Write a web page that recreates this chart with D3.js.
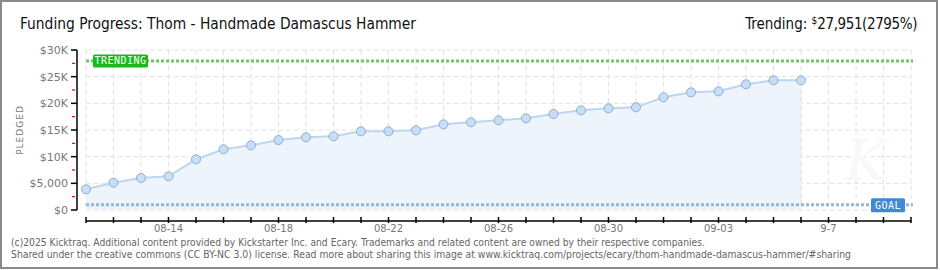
<!DOCTYPE html>
<html>
<head>
<meta charset="utf-8">
<script src="https://cdn.jsdelivr.net/npm/d3@7"></script>
<style>
  body { margin: 0; background: #fff; }
  svg { display: block; }
</style>
</head>
<body>
<div id="chart"></div>
<script>
// Daily pledged totals (USD)
const dates = ["2025-08-11","2025-08-12","2025-08-13","2025-08-14","2025-08-15","2025-08-16","2025-08-17",
  "2025-08-18","2025-08-19","2025-08-20","2025-08-21","2025-08-22","2025-08-23","2025-08-24","2025-08-25",
  "2025-08-26","2025-08-27","2025-08-28","2025-08-29","2025-08-30","2025-08-31","2025-09-01","2025-09-02",
  "2025-09-03","2025-09-04","2025-09-05","2025-09-06"];
const pledged = [3880, 5120, 6000, 6310, 9500, 11380, 12130, 13120, 13630, 13820, 14750, 14750, 14940,
  16060, 16440, 16810, 17190, 18000, 18690, 19060, 19250, 21130, 22060, 22250, 23560, 24310, 24310];
const goal = 1000;
const trending = 27951;
const yTicks = [0, 5000, 10000, 15000, 20000, 25000, 30000];
const yTickLabels = ["$0", "$5,000", "$10K", "$15K", "$20K", "$25K", "$30K"];
const xLabelDates = ["2025-08-14","2025-08-18","2025-08-22","2025-08-26","2025-08-30","2025-09-03","2025-09-07"];
const xLabels = ["08-14","08-18","08-22","08-26","08-30","09-03","9-7"];

const W = 940, H = 270;
const parse = d3.utcParse("%Y-%m-%d");
const data = dates.map((d, i) => ({ date: parse(d), value: pledged[i] }));

const svg = d3.select("#chart").append("svg")
    .attr("width", W).attr("height", H);

// frame
svg.append("rect")
    .attr("x", 1).attr("y", 1).attr("width", W - 4).attr("height", H - 3)
    .attr("fill", "#fff").attr("stroke", "#8a8a8a").attr("stroke-width", 2);

const x = d3.scaleUtc()
    .domain([parse("2025-08-11"), parse("2025-09-10")])
    .range([86, 911]);
const y = d3.scaleLinear()
    .domain([0, 30000])
    .range([210, 50]);

// grid
const days = d3.utcDay.range(parse("2025-08-11"), d3.utcDay.offset(parse("2025-09-10"), 1));
svg.append("g").selectAll("line")
    .data(days).join("line")
    .attr("x1", d => x(d)).attr("x2", d => x(d))
    .attr("y1", y(30000)).attr("y2", y(0))
    .attr("stroke", "#e2e2e2").attr("stroke-dasharray", "5,3");
svg.append("g").selectAll("line")
    .data(yTicks).join("line")
    .attr("x1", x.range()[0]).attr("x2", x.range()[1])
    .attr("y1", d => y(d)).attr("y2", d => y(d))
    .attr("stroke", "#e2e2e2").attr("stroke-dasharray", "5,3");

// watermark
svg.append("text")
    .attr("x", 866).attr("y", 180)
    .attr("text-anchor", "middle")
    .style("font-family", "DejaVu Serif").style("font-style", "italic")
    .style("font-size", "56px").style("fill", "#f8f8f8")
    .text("K");

// area + line
const lastDate = data[data.length - 1].date;
svg.append("path")
    .datum(data)
    .attr("d", d3.area().x(d => x(d.date)).y0(y(0)).y1(d => y(d.value)))
    .attr("fill", "#edf4fc");
svg.append("line")
    .attr("x1", x(lastDate)).attr("x2", x(lastDate))
    .attr("y1", y(data[data.length - 1].value)).attr("y2", y(0))
    .attr("stroke", "#e2e2e2").attr("stroke-dasharray", "5,3");
svg.append("path")
    .datum(data)
    .attr("d", d3.line().x(d => x(d.date)).y(d => y(d.value)))
    .attr("fill", "none").attr("stroke", "#bcd6f2").attr("stroke-width", 2);

// goal & trending lines
svg.append("line")
    .attr("x1", x.range()[0]).attr("x2", x.range()[1] + 2)
    .attr("y1", y(goal)).attr("y2", y(goal))
    .attr("stroke", "#93b6e0").attr("stroke-width", 3).attr("stroke-dasharray", "3,2");
svg.append("line")
    .attr("x1", x.range()[0]).attr("x2", x.range()[1] + 2)
    .attr("y1", y(trending)).attr("y2", y(trending))
    .attr("stroke", "#6cc86c").attr("stroke-width", 3).attr("stroke-dasharray", "3,2");

// points
svg.append("g").selectAll("circle")
    .data(data).join("circle")
    .attr("cx", d => x(d.date)).attr("cy", d => y(d.value))
    .attr("r", 4.5)
    .attr("fill", "#c5defa").attr("stroke", "#93acc8").attr("stroke-width", 1);

// badges
function badge(bx, by, w, h, fill, label) {
    svg.append("rect")
        .attr("x", bx).attr("y", by).attr("width", w).attr("height", h)
        .attr("rx", 1.5).attr("fill", fill);
    svg.append("text")
        .attr("x", bx + w / 2).attr("y", by + h / 2 + 3.5)
        .attr("text-anchor", "middle")
        .style("font-family", "DejaVu Sans Mono").style("font-size", "10px")
        .style("fill", "#fff").style("letter-spacing", "0.5px")
        .text(label);
}
badge(93, y(trending) - 6.5, 55, 13, "#19b919", "TRENDING");
badge(871, y(goal) - 6.5, 34, 14, "#3e8ad6", "GOAL");

// y axis
svg.append("line")
    .attr("x1", 77).attr("x2", 77).attr("y1", y(30000)).attr("y2", y(0))
    .attr("stroke", "#000").attr("stroke-width", 1.5);
svg.append("g").selectAll("line")
    .data(yTicks).join("line")
    .attr("x1", 71).attr("x2", 77)
    .attr("y1", d => y(d)).attr("y2", d => y(d))
    .attr("stroke", "#000").attr("stroke-width", 1.5);
svg.append("g").selectAll("line")
    .data(yTicks.slice(1)).join("line")
    .attr("x1", 72).attr("x2", 75)
    .attr("y1", d => y(d - 2500)).attr("y2", d => y(d - 2500))
    .attr("stroke", "#e00000").attr("stroke-width", 1.2);
svg.append("g").selectAll("text")
    .data(yTicks).join("text")
    .attr("x", 68).attr("y", d => y(d) + 4)
    .attr("text-anchor", "end")
    .style("font-family", "DejaVu Sans").style("font-size", "11px").style("fill", "#777")
    .text((d, i) => yTickLabels[i]);
svg.append("text")
    .attr("transform", "translate(23,130) rotate(-90)")
    .attr("text-anchor", "middle")
    .style("font-family", "DejaVu Sans").style("font-size", "9px").style("fill", "#777")
    .style("letter-spacing", "1px")
    .text("PLEDGED");

// x axis
svg.append("line")
    .attr("x1", x.range()[0]).attr("x2", x.range()[1])
    .attr("y1", 221).attr("y2", 221)
    .attr("stroke", "#000").attr("stroke-width", 1.5);
svg.append("g").selectAll("line")
    .data(days).join("line")
    .attr("x1", d => x(d)).attr("x2", d => x(d))
    .attr("y1", 217).attr("y2", 223)
    .attr("stroke", "#000").attr("stroke-width", 1.5);
svg.append("g").selectAll("text")
    .data(xLabelDates).join("text")
    .attr("x", d => x(parse(d))).attr("y", 232)
    .attr("text-anchor", "middle")
    .style("font-family", "DejaVu Sans").style("font-size", "10px").style("fill", "#777")
    .text((d, i) => xLabels[i]);

// title
svg.append("text")
    .attr("x", 20).attr("y", 29)
    .attr("textLength", 396).attr("lengthAdjust", "spacingAndGlyphs")
    .style("font-family", "DejaVu Sans Condensed").style("font-size", "16px").style("fill", "#111")
    .text("Funding Progress: Thom - Handmade Damascus Hammer");

const tr = svg.append("text")
    .attr("x", 917).attr("y", 29)
    .attr("text-anchor", "end")
    .style("font-family", "DejaVu Sans Condensed").style("font-size", "15px").style("fill", "#111");
tr.append("tspan").text("Trending: ");
tr.append("tspan").style("font-size", "10px").attr("dy", -5).text("$");
tr.append("tspan").attr("dy", 5).style("letter-spacing", "-0.4px")
    .text(d3.format(",")(trending) + "(" + Math.round(trending / goal * 100) + "%)");

// footer
const foot = ["(c)2025 Kicktraq. Additional content provided by Kickstarter Inc. and Ecary. Trademarks and related content are owned by their respective companies.",
  "Shared under the creative commons (CC BY-NC 3.0) license. Read more about sharing this image at www.kicktraq.com/projects/ecary/thom-handmade-damascus-hammer/#sharing"];
const footLen = [694, 840];
svg.append("g").selectAll("text")
    .data(foot).join("text")
    .attr("x", 11).attr("y", (d, i) => 246 + i * 11.5)
    .attr("textLength", (d, i) => footLen[i]).attr("lengthAdjust", "spacingAndGlyphs")
    .style("font-family", "DejaVu Sans").style("font-size", "10px").style("fill", "#666")
    .text(d => d);
</script>
</body>
</html>
